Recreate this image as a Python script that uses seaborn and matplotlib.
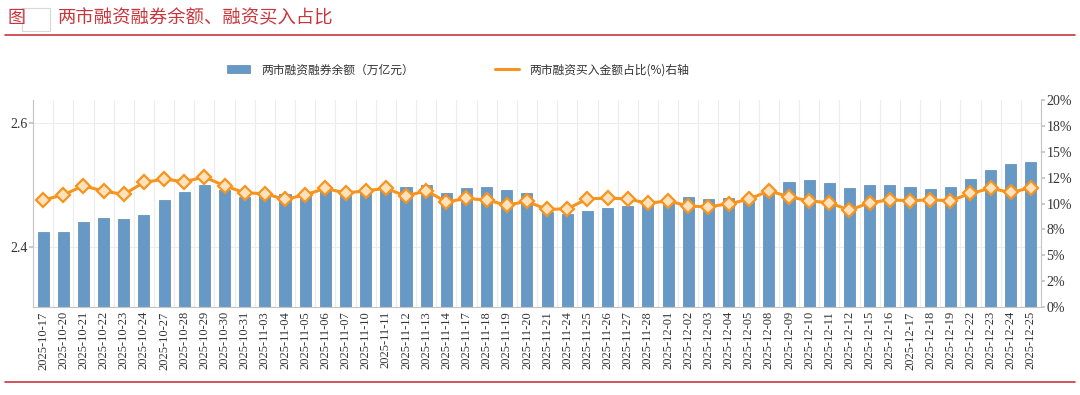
import matplotlib
matplotlib.use("Agg")
import matplotlib.pyplot as plt
import matplotlib.patches as mpatches
from matplotlib.lines import Line2D
import numpy as np
import pandas as pd
import seaborn as sns

# data
dates = [
    "2025-10-17", "2025-10-20", "2025-10-21", "2025-10-22", "2025-10-23",
    "2025-10-24", "2025-10-27", "2025-10-28", "2025-10-29", "2025-10-30",
    "2025-10-31", "2025-11-03", "2025-11-04", "2025-11-05", "2025-11-06",
    "2025-11-07", "2025-11-10", "2025-11-11", "2025-11-12", "2025-11-13",
    "2025-11-14", "2025-11-17", "2025-11-18", "2025-11-19", "2025-11-20",
    "2025-11-21", "2025-11-24", "2025-11-25", "2025-11-26", "2025-11-27",
    "2025-11-28", "2025-12-01", "2025-12-02", "2025-12-03", "2025-12-04",
    "2025-12-05", "2025-12-08", "2025-12-09", "2025-12-10", "2025-12-11",
    "2025-12-12", "2025-12-15", "2025-12-16", "2025-12-17", "2025-12-18",
    "2025-12-19", "2025-12-22", "2025-12-23", "2025-12-24", "2025-12-25",
]
# 两市融资融券余额（万亿元）
balance = [
    2.425, 2.425, 2.440, 2.447, 2.446, 2.452, 2.476, 2.489, 2.500, 2.493,
    2.481, 2.486, 2.486, 2.485, 2.492, 2.488, 2.492, 2.497, 2.497, 2.501,
    2.487, 2.495, 2.497, 2.492, 2.487, 2.456, 2.454, 2.458, 2.464, 2.467,
    2.469, 2.477, 2.481, 2.477, 2.479, 2.477, 2.492, 2.505, 2.509, 2.503,
    2.496, 2.500, 2.500, 2.497, 2.494, 2.498, 2.510, 2.525, 2.534, 2.538,
]
# 两市融资买入金额占比(%)
ratio = [
    10.33, 10.84, 11.71, 11.20, 10.88, 12.04, 12.36, 12.10, 12.56, 11.71,
    11.04, 10.94, 10.40, 10.84, 11.46, 11.01, 11.23, 11.46, 10.72, 11.23,
    10.16, 10.49, 10.33, 9.85, 10.20, 9.43, 9.49, 10.45, 10.52, 10.45,
    10.01, 10.26, 9.75, 9.68, 9.97, 10.40, 11.23, 10.65, 10.26, 10.07,
    9.36, 10.07, 10.36, 10.26, 10.36, 10.26, 10.98, 11.46, 11.07, 11.52,
]
left_ticks = [2.4, 2.6]
pct_ticks = [0, 2.5, 5, 7.5, 10, 12.5, 15, 17.5, 20]
pct_labels = ["0%", "2%", "5%", "8%", "10%", "12%", "15%", "18%", "20%"]

BLUE = "#6699c6"
ORANGE = "#f7941d"
RED = "#c9353b"
GRID = "#ececec"
SPINE = "#c4c4c4"
SERIF = "Liberation Serif"

sns.set_theme(style="white")
plt.rcParams['font.family'] = ['Noto Sans CJK SC', 'DejaVu Sans']

df = pd.DataFrame({"date": dates, "balance": balance, "ratio": ratio})

fig = plt.figure(figsize=(10.8, 3.95), dpi=100)
ax = fig.add_axes([0.0306, 0.2228, 0.9333, 0.5240])

sns.barplot(data=df, x="date", y="balance", ax=ax, color=BLUE, saturation=1,
            width=0.55, edgecolor="#5a88b3", linewidth=0.5, zorder=2)
ax.set_ylim(2.303, 2.638)
ax.set_yticks(left_ticks)
ax.set_yticklabels([f"{v:.1f}" for v in left_ticks])

ax2 = ax.twinx()
sns.pointplot(data=df, x="date", y="ratio", ax=ax2, color=ORANGE,
              markers="D", linewidth=2.2, markersize=7.5,
              markerfacecolor="#fde2bd", markeredgecolor=ORANGE,
              markeredgewidth=1.6, errorbar=None)
ax2.set_ylim(0, 20)
ax2.set_yticks(pct_ticks)
ax2.set_yticklabels(pct_labels)

n = len(dates)
ax.set_xlim(-0.5, n - 0.5)
ax.set_xticks(range(n))
ax.set_xticklabels(dates)
ax.set_xticks(np.arange(n - 1) + 0.5, minor=True)
ax.grid(which="minor", axis="x", color=GRID, lw=0.8)
ax.yaxis.grid(True, color=GRID, lw=0.8)
ax.set_axisbelow(True)
ax.set_xlabel("")
ax.set_ylabel("")
ax2.set_xlabel("")
ax2.set_ylabel("")

ax.tick_params(axis="x", which="both", length=0, labelrotation=90,
               labelsize=9, pad=3, labelcolor="#333333")
ax.tick_params(axis="y", length=3, color=SPINE, labelsize=10, pad=1,
               labelcolor="#333333", left=True)
ax2.tick_params(axis="y", length=3, color=SPINE, labelsize=10, pad=1,
                labelcolor="#333333", right=True)
for lab in ax.get_xticklabels() + ax.get_yticklabels() + ax2.get_yticklabels():
    lab.set_fontfamily(SERIF)

for a in (ax, ax2):
    a.spines["top"].set_visible(False)
    for s in ("left", "right", "bottom"):
        a.spines[s].set_color(SPINE)
        a.spines[s].set_linewidth(0.8)
ax.spines["right"].set_visible(False)
ax2.spines["left"].set_visible(False)
ax2.spines["bottom"].set_visible(False)

# legend
handles = [
    mpatches.Patch(facecolor=BLUE, edgecolor="#5a88b3", linewidth=0.5),
    Line2D([], [], color=ORANGE, lw=2.2),
]
labels = ["两市融资融券余额（万亿元）", "两市融资买入金额占比(%)右轴"]
fig.legend(handles, labels, loc="center", bbox_to_anchor=(0.424, 0.823),
           ncol=2, frameon=False, fontsize=8.5, handlelength=2.0,
           handleheight=0.7, handletextpad=0.9, columnspacing=6.9,
           labelcolor="#333333")

# title bar
fig.text(0.007, 0.954, "图", color=RED, fontsize=13, va="center", ha="left")
fig.patches.append(mpatches.Rectangle((0.0205, 0.9215), 0.026, 0.058,
                                      transform=fig.transFigure, facecolor="white",
                                      edgecolor="#d8d8d8", linewidth=0.8))
fig.text(0.0537, 0.954, "两市融资融券余额、融资买入占比", color=RED,
         fontsize=13.2, va="center", ha="left")
fig.add_artist(Line2D([0.005, 0.995], [0.911, 0.911], color=RED, lw=1.2,
                      transform=fig.transFigure))
fig.add_artist(Line2D([0.005, 0.995], [0.033, 0.033], color=RED, lw=1.2,
                      transform=fig.transFigure))

fig.savefig("out.png", dpi=100)
plt.close(fig)
